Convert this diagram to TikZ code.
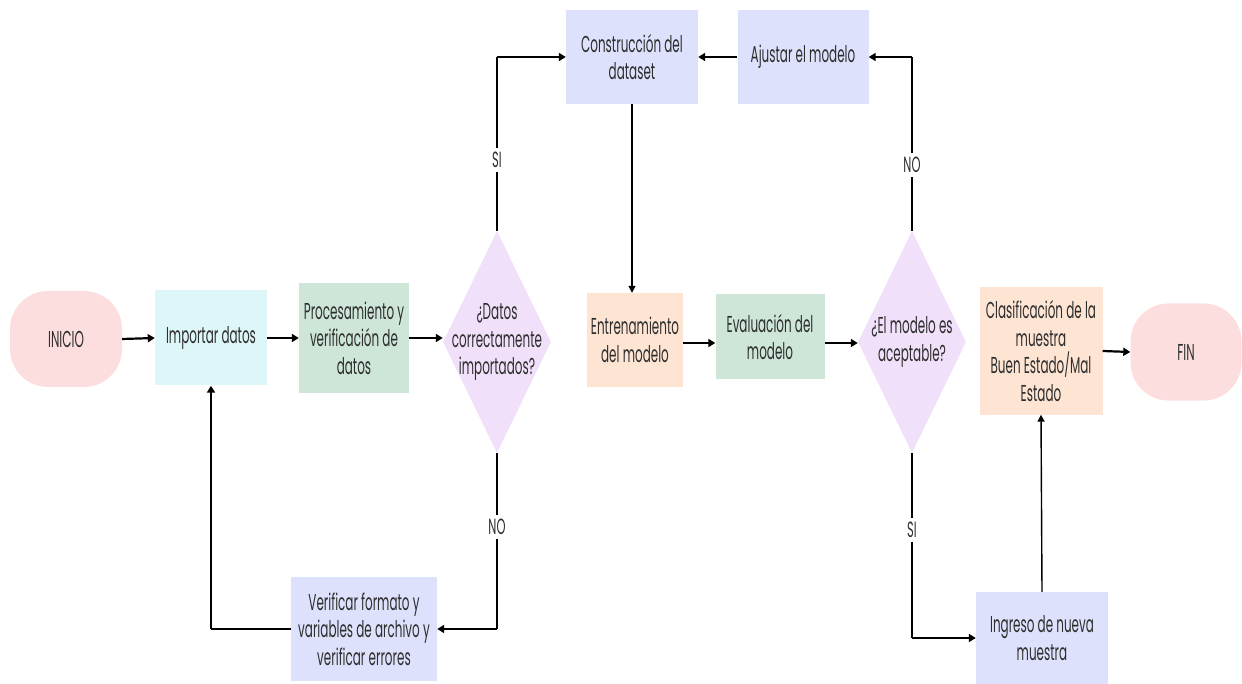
\documentclass[tikz,border=0pt]{standalone}
\usepackage{fontspec}
\setmainfont{Poppins}[FakeStretch=0.52]
\usetikzlibrary{shapes.geometric,arrows.meta}
\definecolor{cpink}{HTML}{FDDEDE}
\definecolor{ccyan}{HTML}{DDF6F8}
\definecolor{cgreen}{HTML}{CDE6D8}
\definecolor{clav}{HTML}{F1E0F9}
\definecolor{cblue}{HTML}{DEE1FB}
\definecolor{cpeach}{HTML}{FDE4D3}
\definecolor{ctext}{HTML}{2E2E2E}
\tikzset{
  base/.style={draw=none, align=center, text=ctext, inner sep=2pt,
    font=\fontsize{23}{27.5}\selectfont},
  terminal/.style={base, fill=cpink, rounded corners=38pt},
  procbox/.style={base, rectangle},
  decision/.style={diamond, fill=clav, draw=none, inner sep=0pt, aspect=0.5},
  dtext/.style={base, inner sep=0pt},
  flow/.style={line width=2.2pt, -{Triangle[length=7pt,width=8pt]}},
  thinflow/.style={line width=1.4pt, -{Triangle[length=7pt,width=7pt]}},
  plain/.style={line width=2pt},
  answer/.style={font=\fontsize{22}{24}\selectfont, text=ctext, fill=white, inner sep=4pt}
}
\begin{document}
\begin{tikzpicture}[x=1pt,y=-1pt]
\useasboundingbox (0,0) rectangle (1242,684);

% main row
\node[terminal, minimum width=112pt, minimum height=96pt] (inicio) at (66,339) {INICIO};
\node[procbox, fill=ccyan, minimum width=112pt, minimum height=95pt] (importar) at (211,338) {Importar datos};
\node[procbox, fill=cgreen, minimum width=110pt, minimum height=109pt] (proc) at (354,338) {Procesamiento y\\verificación de\\datos};
\node[decision, minimum width=108pt, minimum height=222pt] (dec1) at (497,342) {};
\node[dtext] (dec1t) at (497,342) {¿Datos\\correctamente\\importados?};
\node[procbox, fill=cpeach, minimum width=96pt, minimum height=94pt] (entrena) at (635,340) {Entrenamiento\\del modelo};
\node[procbox, fill=cgreen, minimum width=109pt, minimum height=85pt] (evalua) at (770,337) {Evaluación del\\modelo};
\node[decision, minimum width=108pt, minimum height=222pt] (dec2) at (912,342) {};
\node[dtext] (dec2t) at (912,342) {¿El modelo es\\aceptable?};
\node[procbox, fill=cpeach, minimum width=123pt, minimum height=127pt] (clasif) at (1041,351) {Clasificación de la\\muestra\\Buen Estado/Mal\\Estado};
\node[terminal, minimum width=111pt, minimum height=97pt] (fin) at (1186,352) {FIN};

% top row
\node[procbox, fill=cblue, minimum width=132pt, minimum height=94pt] (constr) at (632,57) {Construcción del\\dataset};
\node[procbox, fill=cblue, minimum width=131pt, minimum height=94pt] (ajustar) at (803,57) {Ajustar el modelo};

% bottom row
\node[procbox, fill=cblue, minimum width=146pt, minimum height=104pt] (verif) at (364,629) {Verificar formato y\\variables de archivo y\\verificar errores};
\node[procbox, fill=cblue, minimum width=132pt, minimum height=92pt] (ingreso) at (1042,638) {Ingreso de nueva\\muestra};

% corner points of the loops
\coordinate (c1) at (497,57);
\coordinate (c2) at (497,629);
\coordinate (c3) at (211,629);
\coordinate (c4) at (912,57);
\coordinate (c5) at (912,638);
\coordinate (cs) at (632,104);

% connectors
\draw[flow] (inicio.east) -- (importar.west);
\draw[flow] (importar.east) -- (proc.west);
\draw[flow] (proc.east) -- (proc.east -| dec1.west);
\draw[plain] (dec1.north) -- (c1);
\draw[flow] (c1) -- (constr.west);
\draw[plain] (dec1.south) -- (c2);
\draw[flow] (c2) -- (verif.east);
\draw[plain] (verif.west) -- (c3);
\draw[flow] (c3) -- (importar.south);
\draw[thinflow] (cs) -- (cs |- entrena.north);
\draw[flow] (entrena.east |- 0,343) -- (evalua.west |- 0,343);
\draw[flow] (evalua.east |- 0,343) -- (dec2.west |- 0,343);
\draw[plain] (dec2.north) -- (c4);
\draw[flow] (c4) -- (ajustar.east);
\draw[flow] (ajustar.west) -- (constr.east);
\draw[plain] (dec2.south) -- (c5);
\draw[flow] (c5) -- (ingreso.west);
\draw[thinflow] (ingreso.north) -- (clasif.south);
\draw[flow] (clasif.east) -- (fin.west);

% branch labels
\node[answer] (si1) at (497,160) {SI};
\node[answer] (no1) at (497,527) {NO};
\node[answer] (no2) at (912,165) {NO};
\node[answer] (si2) at (912,530) {SI};
\end{tikzpicture}
\end{document}
